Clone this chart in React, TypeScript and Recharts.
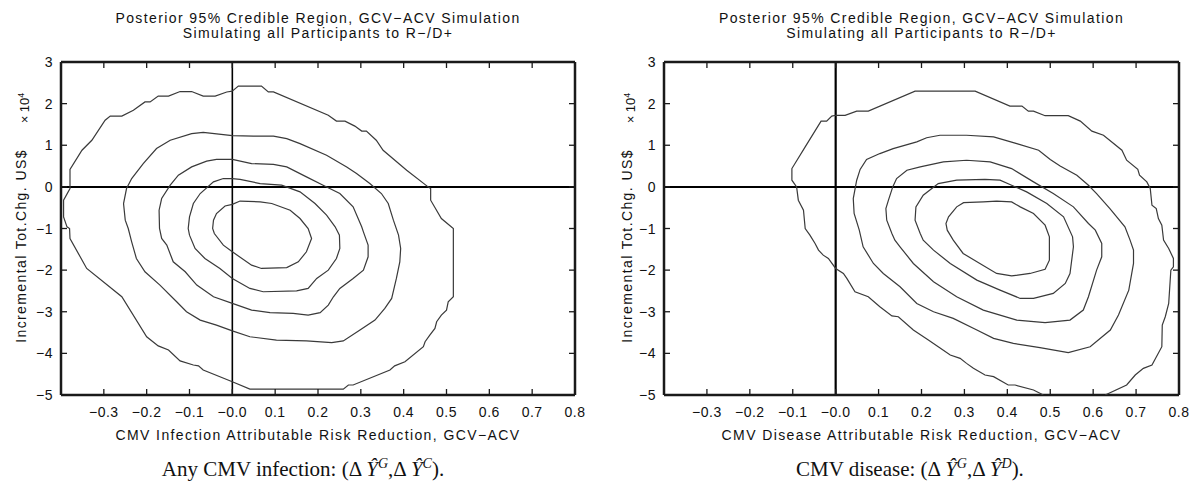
import React from "react";
import { ScatterChart, Scatter, XAxis, YAxis, ReferenceLine, Label } from "recharts";

type Pt = [number, number];

// axis setup shared by both panels
const xTicks = [-0.3, -0.2, -0.1, 0, 0.1, 0.2, 0.3, 0.4, 0.5, 0.6, 0.7, 0.8];
const yTicks = [-5, -4, -3, -2, -1, 0, 1, 2, 3];
const xDomain = [-0.4, 0.8];
const yDomain = [-5, 3];

const titleLines = [
  "Posterior 95% Credible Region, GCV−ACV Simulation",
  "Simulating all Participants to R−/D+",
];
const yLabel = "Incremental Tot.Chg. US$";
const xLabels = [
  "CMV Infection Attributable Risk Reduction, GCV−ACV",
  "CMV Disease Attributable Risk Reduction, GCV−ACV",
];

// CMV infection contours (x: risk reduction, y: cost x 10^4), outer -> inner
const infection1: Pt[] = [
  [0, 2.3], [0.014, 2.42], [0.068, 2.42], [0.084, 2.28], [0.096, 2.28], [0.224, 1.72], [0.243, 1.58],
  [0.263, 1.58], [0.286, 1.46], [0.302, 1.34], [0.313, 1.34], [0.336, 1.12], [0.352, 0.88], [0.407, 0.4],
  [0.457, 0], [0.463, -0.04], [0.463, -0.32], [0.488, -0.76], [0.516, -1.0], [0.516, -2.64], [0.504, -2.76],
  [0.5, -2.96], [0.488, -3.08], [0.477, -3.24], [0.473, -3.4], [0.461, -3.56], [0.45, -3.72], [0.446, -3.84],
  [0.403, -4.2], [0.379, -4.3], [0.368, -4.4], [0.282, -4.76], [0.271, -4.76], [0.259, -4.86], [0.041, -4.86],
  [0, -4.68], [-0.068, -4.4], [-0.079, -4.3], [-0.091, -4.28], [-0.122, -4.18], [-0.149, -3.92], [-0.173, -3.82],
  [-0.2, -3.6], [-0.258, -2.64], [-0.34, -1.96], [-0.379, -1.24], [-0.38, -1.0], [-0.386, -0.96], [-0.394, -0.72],
  [-0.394, -0.32], [-0.379, -0.04], [-0.379, 0.42], [-0.351, 0.88], [-0.328, 1.12], [-0.297, 1.6], [-0.285, 1.7],
  [-0.258, 1.7], [-0.231, 1.84], [-0.204, 2.04], [-0.192, 2.04], [-0.173, 2.18], [-0.149, 2.18], [-0.122, 2.29],
  [-0.095, 2.29], [-0.068, 2.18], [-0.04, 2.18], [-0.013, 2.28], [0, 2.3],
];
const infection2: Pt[] = [
  [0, 1.23], [0.049, 1.22], [0.096, 1.22], [0.127, 1.16], [0.158, 1.04], [0.22, 0.76], [0.267, 0.48],
  [0.29, 0.32], [0.321, 0.08], [0.348, -0.16], [0.364, -0.4], [0.376, -0.8], [0.388, -1.16], [0.393, -1.48],
  [0.391, -1.8], [0.383, -2.2], [0.372, -2.68], [0.356, -2.92], [0.333, -3.2], [0.298, -3.44], [0.259, -3.7],
  [0.232, -3.74], [0.173, -3.7], [0.103, -3.68], [0.041, -3.6], [0, -3.46], [-0.037, -3.32], [-0.075, -3.2],
  [-0.107, -3.0], [-0.13, -2.76], [-0.169, -2.36], [-0.204, -2.04], [-0.224, -1.72], [-0.235, -1.32],
  [-0.243, -1.0], [-0.25, -0.8], [-0.254, -0.4], [-0.247, -0.04], [-0.235, 0.2], [-0.208, 0.56], [-0.177, 0.92],
  [-0.145, 1.12], [-0.095, 1.28], [-0.068, 1.31], [0, 1.23],
];
const infection3: Pt[] = [
  [0, 0.66], [0.045, 0.56], [0.096, 0.54], [0.127, 0.48], [0.173, 0.24], [0.212, 0.04], [0.251, -0.16],
  [0.282, -0.48], [0.302, -0.96], [0.306, -1.08], [0.317, -1.4], [0.317, -1.68], [0.306, -2.0], [0.282, -2.2],
  [0.251, -2.44], [0.236, -2.64], [0.224, -2.84], [0.205, -3.02], [0.177, -3.08], [0.142, -3.04], [0.088, -3.02],
  [0.045, -2.96], [0, -2.8], [-0.044, -2.64], [-0.083, -2.36], [-0.11, -2.04], [-0.138, -1.8], [-0.153, -1.4],
  [-0.165, -1.24], [-0.17, -1.0], [-0.171, -0.56], [-0.165, -0.28], [-0.145, 0.04], [-0.126, 0.28],
  [-0.095, 0.48], [-0.06, 0.62], [-0.037, 0.66], [0, 0.66],
];
const infection4: Pt[] = [
  [0, 0.2], [0.018, 0.18], [0.065, 0.08], [0.115, 0.04], [0.158, -0.12], [0.193, -0.4], [0.22, -0.68],
  [0.24, -0.96], [0.25, -1.16], [0.251, -1.48], [0.243, -1.72], [0.224, -2.0], [0.197, -2.2], [0.177, -2.44],
  [0.15, -2.5], [0.072, -2.52], [0.041, -2.44], [0, -2.2], [-0.029, -1.96], [-0.064, -1.72], [-0.087, -1.48],
  [-0.1, -1.16], [-0.103, -1.0], [-0.1, -0.72], [-0.091, -0.4], [-0.075, -0.16], [-0.044, 0.12], [-0.021, 0.2],
  [0, 0.2],
];
const infection5: Pt[] = [
  [0, -0.42], [0.018, -0.34], [0.065, -0.36], [0.092, -0.4], [0.135, -0.56], [0.158, -0.76], [0.177, -1.0],
  [0.185, -1.24], [0.173, -1.56], [0.154, -1.8], [0.127, -1.94], [0.068, -1.96], [0.045, -1.88], [0, -1.56],
  [-0.021, -1.4], [-0.042, -1.12], [-0.046, -1.0], [-0.044, -0.8], [-0.037, -0.64], [-0.017, -0.46], [0, -0.42],
];

// CMV disease contours; the outer one runs off the bottom edge so it stays open
const disease1: Pt[] = [
  [0.628, -5.0], [0.678, -4.76], [0.698, -4.52], [0.717, -4.36], [0.737, -4.28], [0.76, -3.84], [0.761, -3.32],
  [0.768, -3.12], [0.776, -2.8], [0.781, -2.0], [0.787, -1.92], [0.787, -1.72], [0.776, -1.48], [0.764, -1.28],
  [0.76, -0.92], [0.752, -0.76], [0.747, -0.52], [0.737, -0.44], [0.733, -0.04], [0.725, 0.12], [0.708, 0.28],
  [0.704, 0.42], [0.678, 0.64], [0.667, 0.88], [0.624, 1.24], [0.597, 1.34], [0.57, 1.58], [0.542, 1.71],
  [0.488, 1.71], [0.461, 1.82], [0.449, 1.82], [0.434, 1.94], [0.406, 1.94], [0.325, 2.3], [0.185, 2.3],
  [0.076, 1.82], [0.049, 1.82], [0.022, 1.72], [0, 1.72], [-0.009, 1.7], [-0.021, 1.58], [-0.034, 1.58],
  [-0.071, 0.96], [-0.102, 0.44], [-0.102, 0.16], [-0.091, 0], [-0.087, -0.32], [-0.075, -0.56], [-0.071, -1.0],
  [-0.06, -1.16], [-0.048, -1.36], [-0.04, -1.52], [-0.029, -1.64], [-0.017, -1.72], [0, -1.96], [0.018, -2.08],
  [0.026, -2.2], [0.045, -2.52], [0.076, -2.64], [0.103, -2.88], [0.131, -3.1], [0.146, -3.12], [0.181, -3.44],
  [0.216, -3.68], [0.239, -3.84], [0.267, -4.04], [0.29, -4.12], [0.305, -4.24], [0.321, -4.36], [0.348, -4.52],
  [0.368, -4.56], [0.402, -4.76], [0.418, -4.76], [0.461, -4.88], [0.484, -5.0],
];
const disease2: Pt[] = [
  [0.243, 1.24], [0.305, 1.24], [0.368, 1.2], [0.422, 1.04], [0.473, 0.88], [0.5, 0.66], [0.523, 0.5],
  [0.562, 0.28], [0.589, 0.04], [0.608, -0.16], [0.639, -0.52], [0.674, -0.96], [0.686, -1.28], [0.694, -1.52],
  [0.694, -1.84], [0.683, -2.48], [0.659, -3.08], [0.64, -3.44], [0.593, -3.84], [0.542, -3.98], [0.476, -3.86],
  [0.414, -3.76], [0.368, -3.64], [0.329, -3.44], [0.274, -3.16], [0.228, -3.0], [0.189, -2.8], [0.15, -2.4],
  [0.111, -2.08], [0.088, -1.84], [0.064, -1.44], [0.055, -1.04], [0.043, -0.64], [0.041, -0.28], [0.049, 0.16],
  [0.057, 0.42], [0.072, 0.66], [0.103, 0.8], [0.134, 0.92], [0.189, 1.08], [0.212, 1.18], [0.243, 1.24],
];
const disease3: Pt[] = [
  [0.305, 0.64], [0.36, 0.6], [0.41, 0.44], [0.461, 0.12], [0.507, -0.16], [0.554, -0.48], [0.589, -0.88],
  [0.605, -1.04], [0.62, -1.36], [0.62, -1.68], [0.608, -2.0], [0.589, -2.64], [0.577, -2.96], [0.546, -3.2],
  [0.488, -3.26], [0.422, -3.2], [0.344, -2.96], [0.282, -2.64], [0.228, -2.28], [0.181, -1.84], [0.15, -1.44],
  [0.138, -1.28], [0.131, -1.12], [0.119, -0.8], [0.117, -0.52], [0.123, -0.32], [0.133, 0], [0.142, 0.2],
  [0.166, 0.4], [0.197, 0.48], [0.251, 0.6], [0.305, 0.64],
];
const disease4: Pt[] = [
  [0.348, 0.18], [0.383, 0.16], [0.41, 0.04], [0.445, -0.12], [0.492, -0.4], [0.531, -0.72], [0.552, -1.2],
  [0.554, -1.44], [0.546, -2.08], [0.535, -2.32], [0.507, -2.56], [0.461, -2.68], [0.43, -2.68], [0.383, -2.48],
  [0.329, -2.24], [0.267, -1.84], [0.228, -1.52], [0.204, -1.28], [0.197, -1.12], [0.185, -0.8], [0.187, -0.48],
  [0.204, -0.2], [0.239, 0.08], [0.282, 0.16], [0.348, 0.18],
];
const disease5: Pt[] = [
  [0.375, -0.34], [0.41, -0.36], [0.43, -0.48], [0.461, -0.64], [0.488, -0.92], [0.498, -1.2], [0.498, -1.76],
  [0.488, -1.98], [0.453, -2.08], [0.41, -2.14], [0.375, -2.08], [0.336, -1.84], [0.297, -1.6], [0.274, -1.28],
  [0.26, -1.04], [0.257, -0.88], [0.263, -0.72], [0.282, -0.48], [0.298, -0.38], [0.344, -0.36], [0.375, -0.34],
];

const infectionContours = [infection1, infection2, infection3, infection4, infection5];
const diseaseContours = [disease1, disease2, disease3, disease4, disease5];

const FONT = '"Liberation Sans", Arial, Helvetica, sans-serif';
const SERIF = '"Liberation Serif", "Times New Roman", Times, serif';
const AXIS = "#1a1a1a";
const CONTOUR = "#3a3a3a";

const fmtX = (v: number) => (v === 0 ? "−0.0" : (v < 0 ? "−" : "") + Math.abs(v).toFixed(1));
const fmtY = (v: number) => (v < 0 ? "−" : "") + Math.abs(v);

const BottomTick = (p: any) => (
  <g>
    <line x1={p.x} x2={p.x} y1={p.y} y2={p.y - 6} stroke={AXIS} strokeWidth={1.3} />
    <text x={p.x} y={p.y + 22} textAnchor="middle" fontSize={14} fontFamily={FONT} fill="#111" letterSpacing={0.5}>
      {fmtX(p.payload.value)}
    </text>
  </g>
);
const TopTick = (p: any) => (
  <line x1={p.x} x2={p.x} y1={p.y} y2={p.y + 6} stroke={AXIS} strokeWidth={1.3} />
);
const LeftTick = (p: any) => (
  <g>
    <line x1={p.x} x2={p.x + 6} y1={p.y} y2={p.y} stroke={AXIS} strokeWidth={1.3} />
    <text x={p.x - 8} y={p.y + 5} textAnchor="end" fontSize={14} fontFamily={FONT} fill="#111" letterSpacing={0.5}>
      {fmtY(p.payload.value)}
    </text>
  </g>
);
const RightTick = (p: any) => (
  <line x1={p.x} x2={p.x - 6} y1={p.y} y2={p.y} stroke={AXIS} strokeWidth={1.3} />
);
const Blank = () => <g />;

const toPoints = (c: Pt[]) => c.map(([x, y]) => ({ x, y }));

type PanelProps = {
  left: number;
  width: number;
  marginLeft: number;
  marginRight: number;
  contours: Pt[][];
  xLabel: string;
  zeroWidth: number;
  yLabelX: number;
  caption: React.ReactNode;
  captionX: number;
};

const Panel = ({ left, width, marginLeft, marginRight, contours, xLabel, zeroWidth, yLabelX, caption, captionX }: PanelProps) => {
  const plotLeft = marginLeft + 60;
  const plotRight = width - marginRight - 1;
  const center = (plotLeft + plotRight) / 2;
  return (
    <div style={{ position: "absolute", left, top: 0, width, height: 492 }}>
      <div
        style={{
          position: "absolute",
          left: center - 300,
          width: 600,
          top: 11,
          textAlign: "center",
          fontFamily: FONT,
          fontSize: 14,
          lineHeight: "15px",
          letterSpacing: 1.4,
          color: "#111",
        }}
      >
        {titleLines.map((t) => (
          <div key={t}>{t}</div>
        ))}
      </div>
      <div
        style={{
          position: "absolute",
          left: yLabelX,
          top: 246,
          transform: "translate(-50%, -50%) rotate(-90deg)",
          whiteSpace: "nowrap",
          fontFamily: FONT,
          fontSize: 14,
          letterSpacing: 1.4,
          color: "#111",
        }}
      >
        {yLabel}
      </div>
      <div
        style={{
          position: "absolute",
          left: yLabelX + 3,
          top: 108,
          transform: "translate(-50%, -50%) rotate(-90deg)",
          whiteSpace: "nowrap",
          fontFamily: FONT,
          fontSize: 13,
          color: "#111",
        }}
      >
        × 10<sup style={{ fontSize: 9 }}>4</sup>
      </div>
      <div style={{ position: "absolute", left: 0, top: 0 }}>
        <ScatterChart width={width} height={450} margin={{ top: 61, right: marginRight, bottom: 0, left: marginLeft }}>
          <XAxis
            type="number"
            dataKey="x"
            domain={xDomain}
            ticks={xTicks}
            interval={0}
            allowDataOverflow
            tickSize={0}
            tickMargin={0}
            tickLine={false}
            tick={<BottomTick />}
            axisLine={{ stroke: AXIS, strokeWidth: 2.5 }}
            height={55}
          >
            <Label value={xLabel} position="insideBottom" offset={10} fontSize={14} fontFamily={FONT} fill="#111" letterSpacing={1.4} />
          </XAxis>
          <XAxis
            xAxisId="top"
            orientation="top"
            type="number"
            dataKey="x"
            domain={xDomain}
            ticks={xTicks}
            interval={0}
            allowDataOverflow
            tickSize={0}
            tickMargin={0}
            tickLine={false}
            tick={<TopTick />}
            axisLine={{ stroke: AXIS, strokeWidth: 2.5 }}
            height={1}
          />
          <YAxis
            type="number"
            dataKey="y"
            domain={yDomain}
            ticks={yTicks}
            interval={0}
            allowDataOverflow
            tickSize={0}
            tickMargin={0}
            tickLine={false}
            tick={<LeftTick />}
            axisLine={{ stroke: AXIS, strokeWidth: 2.5 }}
            width={60}
          />
          <YAxis
            yAxisId="right"
            orientation="right"
            type="number"
            dataKey="y"
            domain={yDomain}
            ticks={yTicks}
            interval={0}
            allowDataOverflow
            tickSize={0}
            tickMargin={0}
            tickLine={false}
            tick={<RightTick />}
            axisLine={{ stroke: AXIS, strokeWidth: 2.5 }}
            width={1}
          />
          <ReferenceLine x={0} stroke="#000" strokeWidth={zeroWidth} />
          <ReferenceLine y={0} stroke="#000" strokeWidth={2} />
          {contours.map((c, i) => (
            <Scatter
              key={i}
              data={toPoints(c)}
              line={{ stroke: CONTOUR, strokeWidth: 1.2 }}
              shape={Blank}
              fill="none"
              legendType="none"
              isAnimationActive={false}
            />
          ))}
        </ScatterChart>
      </div>
      <div
        style={{
          position: "absolute",
          left: captionX - 300,
          width: 600,
          top: 456,
          textAlign: "center",
          fontFamily: SERIF,
          fontSize: 21,
          lineHeight: "26px",
          color: "#111",
          whiteSpace: "nowrap",
        }}
      >
        {caption}
      </div>
    </div>
  );
};

const supStyle: React.CSSProperties = { fontSize: 14, fontStyle: "italic", verticalAlign: "super", lineHeight: 0 };

export default function App() {
  return (
    <div style={{ position: "absolute", left: 0, top: 0, width: 1198, height: 492, background: "#fff", overflow: "hidden" }}>
      <Panel
        left={0}
        width={598}
        marginLeft={1}
        marginRight={22}
        contours={infectionContours}
        xLabel={xLabels[0]}
        zeroWidth={1.6}
        yLabelX={21}
        captionX={303}
        caption={
          <span>
            Any CMV infection: (Δ <i>Ŷ</i>
            <span style={supStyle}>G</span>,Δ <i>Ŷ</i>
            <span style={supStyle}>C</span>).
          </span>
        }
      />
      <Panel
        left={598}
        width={600}
        marginLeft={6}
        marginRight={18}
        contours={diseaseContours}
        xLabel={xLabels[1]}
        zeroWidth={2.2}
        yLabelX={29}
        captionX={312}
        caption={
          <span>
            CMV disease: (Δ <i>Ŷ</i>
            <span style={supStyle}>G</span>,Δ <i>Ŷ</i>
            <span style={supStyle}>D</span>).
          </span>
        }
      />
    </div>
  );
}
